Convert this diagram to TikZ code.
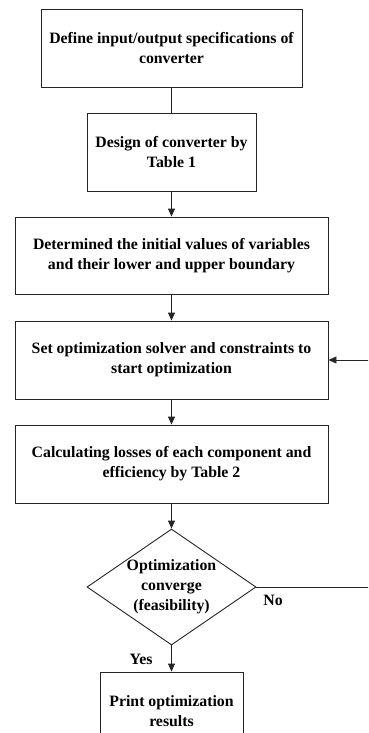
\documentclass[tikz,border=0pt]{standalone}
\usepackage{fontspec}
\setmainfont{Liberation Serif}
\usetikzlibrary{shapes.geometric,arrows.meta}
\begin{document}
\begin{tikzpicture}[x=1pt,y=-1pt,
  line/.style={draw=black!85,line width=0.9pt},
  arrow/.style={line,-{Triangle[length=8pt,width=7pt]}},
  stepbox/.style={line,rectangle,inner sep=0pt,align=center,
    font=\bfseries\fontsize{15.8}{20}\selectfont},
  txt/.style={align=center,font=\bfseries\fontsize{15.8}{20}\selectfont}]
  \useasboundingbox (0,0) rectangle (368,733);
  \clip (0,0) rectangle (368,733);
  \fill[white] (0,0) rectangle (368,733);

  % process steps
  \node[stepbox,minimum width=261pt,minimum height=78pt] (b1) at (171.5,48)
    {Define input/output specifications of\\converter};
  \node[stepbox,minimum width=169pt,minimum height=78pt] (b2) at (171.5,152)
    {Design of converter by\\Table 1};
  \node[stepbox,minimum width=313pt,minimum height=77pt] (b3) at (171.5,255.5)
    {Determined the initial values of variables\\and their lower and upper boundary};
  \node[stepbox,minimum width=313pt,minimum height=78pt] (b4) at (171.5,360)
    {Set optimization solver and constraints to\\start optimization};
  \node[stepbox,minimum width=313pt,minimum height=78pt] (b5) at (171.5,464)
    {Calculating losses of each component and\\efficiency by Table 2};

  % decision
  \node[line,diamond,inner sep=0pt,minimum width=169pt,minimum height=116pt] (d) at (171.5,587) {};
  \node[txt] (dt) at (d.center) {Optimization\\converge\\(feasibility)};

  % final step
  \node[stepbox,minimum width=143pt,minimum height=78pt] (b6) at (171.5,711)
    {Print optimization\\results};

  % connectors
  \draw[line] (b1) -- (b2);
  \draw[arrow] (b2) -- (b3);
  \draw[arrow] (b3) -- (b4);
  \draw[arrow] (b4) -- (b5);
  \draw[arrow] (b5) -- (d);
  \draw[arrow] (d) -- (b6);
  \coordinate (r1) at (372,587);
  \coordinate (r2) at (372,360);
  \draw[arrow] (d.east) -- (r1) -- (r2) -- (b4.east);

  % branch labels
  \node[txt] (no) at (273,600) {No};
  \node[txt] (yes) at (141,659) {Yes};
\end{tikzpicture}
\end{document}
